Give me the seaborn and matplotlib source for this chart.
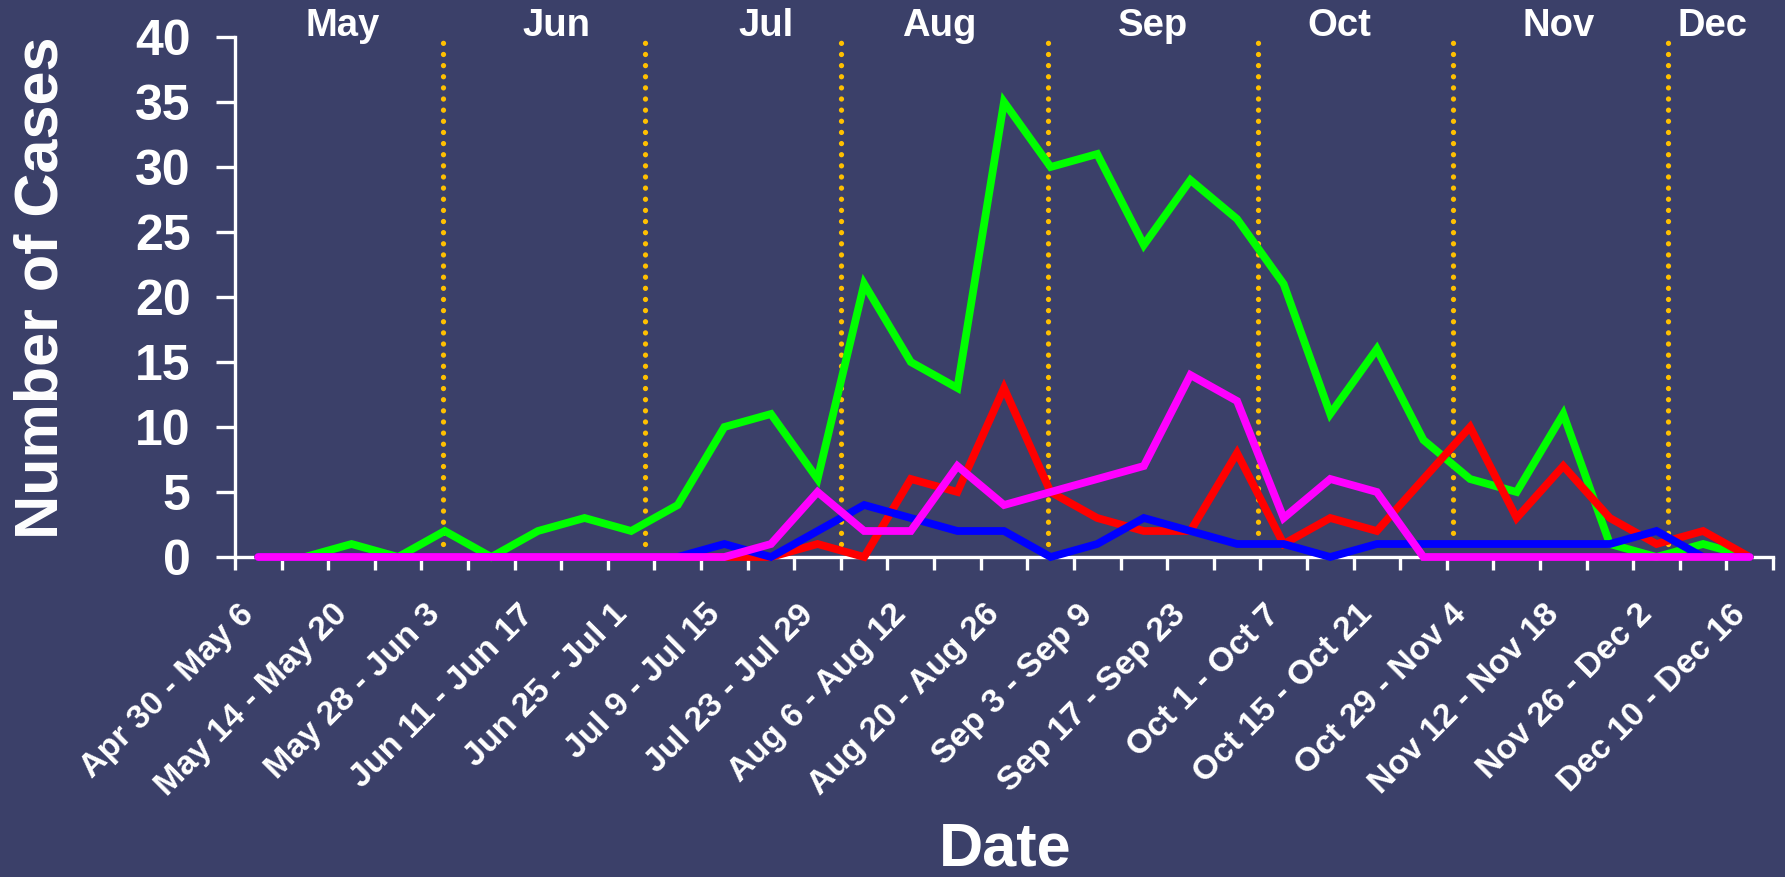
import numpy as np
import pandas as pd
import matplotlib
matplotlib.use("Agg")
import matplotlib.pyplot as plt
import matplotlib.transforms as mtransforms
import seaborn as sns

# ---------------- data ----------------
week_index = list(range(33))
tick_labels = ["Apr 30 - May 6", "May 14 - May 20", "May 28 - Jun 3", "Jun 11 - Jun 17",
               "Jun 25 - Jul 1", "Jul 9 - Jul 15", "Jul 23 - Jul 29", "Aug 6 - Aug 12",
               "Aug 20 - Aug 26", "Sep 3 - Sep 9", "Sep 17 - Sep 23", "Oct 1 - Oct 7",
               "Oct 15 - Oct 21", "Oct 29 - Nov 4", "Nov 12 - Nov 18", "Nov 26 - Dec 2",
               "Dec 10 - Dec 16"]
green_cases = [0, 0, 1, 0, 2, 0, 2, 3, 2, 4, 10, 11, 6, 21, 15, 13, 35, 30, 31, 24,
               29, 26, 21, 11, 16, 9, 6, 5, 11, 1, 0, 1, 0]
red_cases = [0, 0, 0, 0, 0, 0, 0, 0, 0, 0, 0, 0, 1, 0, 6, 5, 13, 5, 3, 2,
             2, 8, 1, 3, 2, 6, 10, 3, 7, 3, 1, 2, 0]
blue_cases = [0, 0, 0, 0, 0, 0, 0, 0, 0, 0, 1, 0, 2, 4, 3, 2, 2, 0, 1, 3,
              2, 1, 1, 0, 1, 1, 1, 1, 1, 1, 2, 0, 0]
magenta_cases = [0, 0, 0, 0, 0, 0, 0, 0, 0, 0, 0, 1, 5, 2, 2, 7, 4, 5, 6, 7,
                 14, 12, 3, 6, 5, 0, 0, 0, 0, 0, 0, 0, 0]
month_names = ["May", "Jun", "Jul", "Aug", "Sep", "Oct", "Nov", "Dec"]
month_label_pos = [1.8, 6.4, 10.9, 14.6, 19.2, 23.2, 27.9, 31.2]
month_boundaries = [3.97, 8.30, 12.50, 16.94, 21.45, 25.63, 30.24]

series_names = ["Series 1", "Series 2", "Series 3", "Series 4"]
series_colors = ["#00FF00", "#FF0000", "#0000FF", "#FF00FF"]

df = pd.concat([
    pd.DataFrame({"week": week_index, "cases": vals, "series": name})
    for name, vals in zip(series_names, [green_cases, red_cases, blue_cases, magenta_cases])
], ignore_index=True)

# ---------------- style ----------------
sns.set_style("ticks")
plt.rcParams["font.family"] = ["Liberation Sans", "DejaVu Sans"]
plt.rcParams["font.weight"] = "bold"

BG = "#3b4069"
W, H = 1785, 877
fig = plt.figure(figsize=(W / 100, H / 100), dpi=100)
fig.patch.set_facecolor(BG)
ax = fig.add_axes([235 / W, 1 - 557 / H, (1773 - 235) / W, 520 / H])
ax.set_facecolor(BG)

sns.lineplot(data=df, x="week", y="cases", hue="series", hue_order=series_names,
             palette=dict(zip(series_names, series_colors)), linewidth=5.6,
             legend=False, ax=ax)
for ln in ax.lines:
    ln.set_clip_on(False)
    ln.set_linewidth(5.6)
    ln.set_solid_joinstyle("miter")
    ln.set_zorder(3)

ax.set_xlim(-0.5, 32.5)
ax.set_ylim(0, 40)

# month divider lines (dotted gold)
for xb in month_boundaries:
    ax.axvline(xb, ymin=1 / 40, ymax=1, color="#FFC000", linewidth=3.8,
               linestyle=(0, (0.01, 2.1)), dash_capstyle="round", zorder=2)

for s in ["top", "right"]:
    ax.spines[s].set_visible(False)
for s in ["left", "bottom"]:
    ax.spines[s].set_color("white")
    ax.spines[s].set_linewidth(2.4)
    ax.spines[s].set_zorder(1)

# y ticks
ax.set_yticks(np.arange(0, 41, 5))
ax.tick_params(axis="y", which="major", direction="out", length=14, width=2.4,
               color="white", labelcolor="white", labelsize=36, pad=18)

# x ticks: labels at every other week, small ticks between weeks
ax.set_xticks(week_index[::2])
ax.set_xticklabels(tick_labels)
ax.set_xticks(np.arange(-0.5, 33, 1), minor=True)
ax.tick_params(axis="x", which="major", length=0, labelcolor="white",
               labelsize=24.5, pad=38)
ax.tick_params(axis="x", which="minor", direction="out", length=9, width=2.4,
               color="white")
shift = mtransforms.ScaledTranslation(-0.09, 0, fig.dpi_scale_trans)
for lab in ax.get_xticklabels():
    lab.set_rotation(45)
    lab.set_ha("right")
    lab.set_va("center")
    lab.set_rotation_mode("anchor")
    lab.set_fontweight("bold")
    lab.set_transform(lab.get_transform() + shift)
for lab in ax.get_yticklabels():
    lab.set_fontweight("bold")

ax.set_ylabel("Number of Cases", fontsize=44, fontweight="bold", color="white")
ax.yaxis.set_label_coords(-0.107, 0.517)
ax.set_xlabel("Date", fontsize=44, fontweight="bold", color="white")
ax.xaxis.set_label_coords(0.501, -0.5925)
ax.xaxis.label.set_va("baseline")

for name, pos in zip(month_names, month_label_pos):
    ax.text(pos, 40.1, name, ha="center", va="baseline", fontsize=27.5,
            fontweight="bold", color="white", clip_on=False)

fig.savefig("out.png", dpi=100, facecolor=BG)
